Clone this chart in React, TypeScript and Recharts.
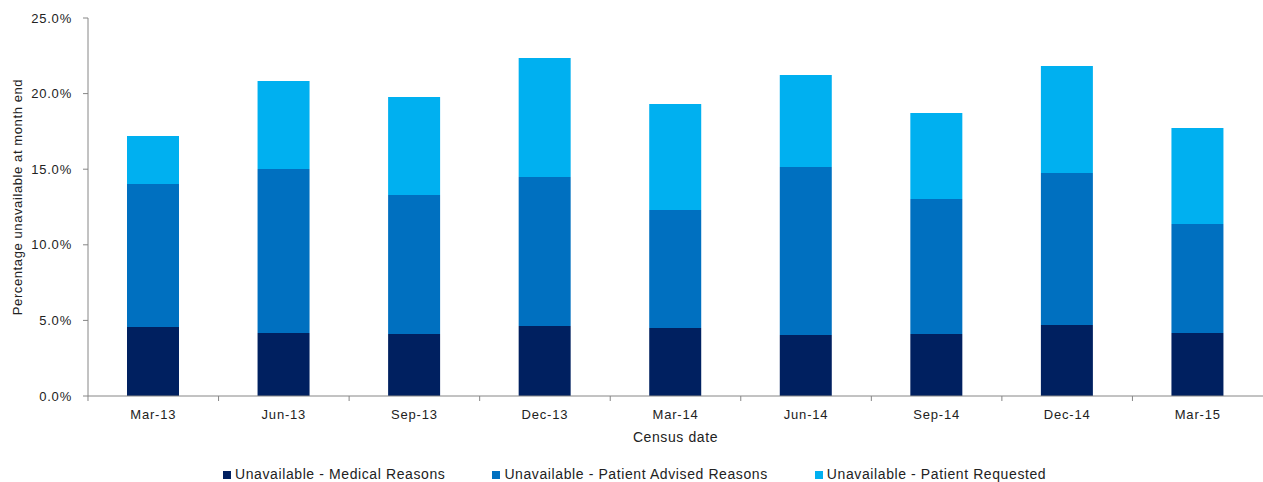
import { BarChart, Bar, XAxis, YAxis } from "recharts";

const censusDates = [
  "Mar-13", "Jun-13", "Sep-13", "Dec-13", "Mar-14",
  "Jun-14", "Sep-14", "Dec-14", "Mar-15",
];
const medicalReasons = [4.56, 4.17, 4.1, 4.63, 4.5, 4.03, 4.1, 4.7, 4.17];
const patientAdvised = [9.46, 10.84, 9.19, 9.85, 7.8, 11.12, 8.93, 10.05, 7.21];
const patientRequested = [3.18, 5.82, 6.49, 7.87, 7.01, 6.08, 5.69, 7.08, 6.34];
const yTicks = [0, 5, 10, 15, 20, 25];

const series = [
  { key: "medical", name: "Unavailable - Medical Reasons", color: "#002060" },
  { key: "advised", name: "Unavailable - Patient Advised Reasons", color: "#0070C0" },
  { key: "requested", name: "Unavailable - Patient Requested", color: "#00B0F0" },
];

const data = censusDates.map((date, i) => ({
  date,
  medical: medicalReasons[i],
  advised: patientAdvised[i],
  requested: patientRequested[i],
}));

const FONT = '"Liberation Sans", Arial, sans-serif';
const AXIS = "#868686";
const TEXT = "#222";
const PLOT_LEFT = 88;
const PLOT_W = 1263 - PLOT_LEFT;
const BAND = PLOT_W / censusDates.length;

function YLabel() {
  return (
    <text
      x={22}
      y={197}
      transform="rotate(-90 22 197)"
      textAnchor="middle"
      fontSize={13}
      fill={TEXT}
      stroke="none"
      style={{ fontFamily: FONT, letterSpacing: 0.6 }}
    >
      Percentage unavailable at month end
    </text>
  );
}

export default function App() {
  return (
    <div style={{ position: "absolute", left: 0, top: 0, width: 1263, height: 482, background: "#fff", overflow: "hidden" }}>
      <BarChart
        width={1263}
        height={482}
        data={data}
        margin={{ top: 18, right: 0, left: 0, bottom: 36 }}
        barSize={52}
      >
        <XAxis
          dataKey="date"
          height={50}
          stroke={AXIS}
          // shift tick marks to the category boundaries
          tickLine={{ stroke: AXIS, transform: `translate(${-BAND / 2}, 0)` }}
          tickSize={5}
          tickMargin={9}
          tick={{ fontSize: 13, fill: TEXT, stroke: "none", fontFamily: FONT, letterSpacing: 0.8 }}
          label={{
            value: "Census date",
            position: "insideBottom",
            offset: 4,
            fontSize: 14,
            fill: TEXT,
            stroke: "none",
            style: { fontFamily: FONT, letterSpacing: 0.6 },
          }}
        />
        <YAxis
          width={PLOT_LEFT}
          domain={[0, 25]}
          ticks={yTicks}
          stroke={AXIS}
          tickSize={5}
          tickMargin={11}
          tick={{ fontSize: 13, fill: TEXT, stroke: "none", fontFamily: FONT, letterSpacing: 0.8 }}
          tickFormatter={(v: number) => `${v.toFixed(1)}%`}
          label={<YLabel />}
        />
        {series.map((s) => (
          <Bar
            key={s.key}
            dataKey={s.key}
            name={s.name}
            stackId="a"
            fill={s.color}
            isAnimationActive={false}
          />
        ))}
      </BarChart>
      <div
        style={{
          position: "absolute",
          left: 223,
          top: 467,
          display: "flex",
          gap: 47,
          fontFamily: FONT,
          fontSize: 14,
          letterSpacing: 0.6,
          color: TEXT,
          lineHeight: "15px",
        }}
      >
        {series.map((s) => (
          <div key={s.key} style={{ display: "flex", alignItems: "center" }}>
            <span style={{ width: 8, height: 8, background: s.color, marginRight: 4, display: "inline-block" }} />
            <span>{s.name}</span>
          </div>
        ))}
      </div>
    </div>
  );
}
